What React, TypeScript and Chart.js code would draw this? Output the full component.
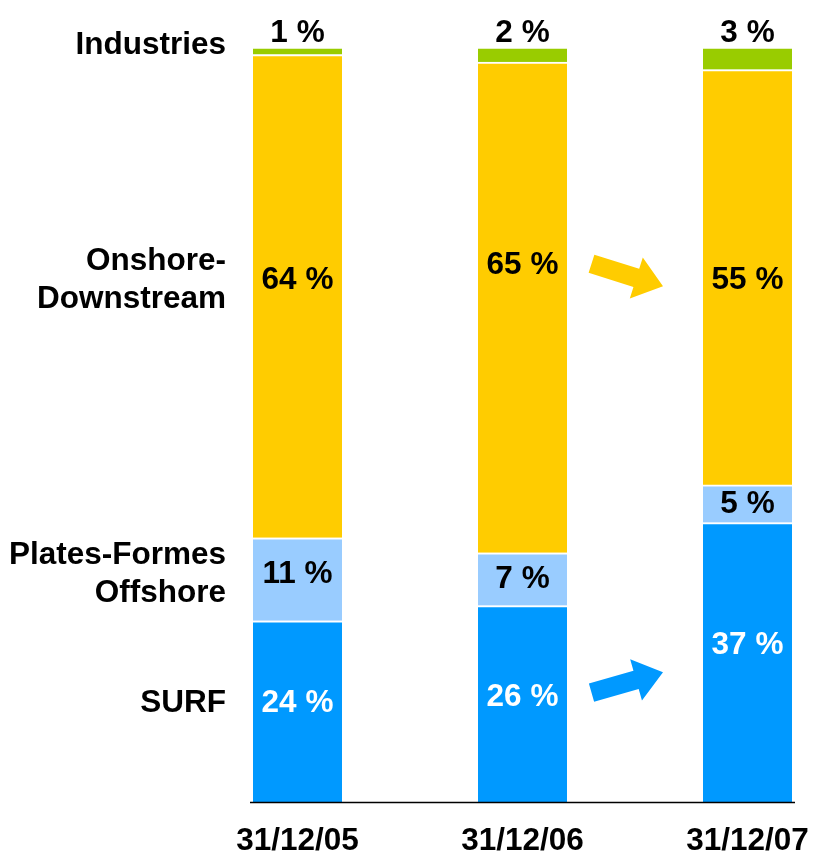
import React, { useEffect, useRef } from "react";
import { Chart, registerables } from "chart.js";

Chart.register(...registerables);

const categories = ["31/12/05", "31/12/06", "31/12/07"];
const seriesNames = ["SURF", "Plates-Formes Offshore", "Onshore-Downstream", "Industries"];
const surf = [24, 26, 37];
const platesFormes = [11, 7, 5];
const onshore = [64, 65, 55];
const industries = [1, 2, 3];
const rowLabels = [["SURF"], ["Plates-Formes", "Offshore"], ["Onshore-", "Downstream"], ["Industries"]];

const COLORS = ["#0099FF", "#99CCFF", "#FFCC00", "#99CC00"];
const LABEL_COLORS = ["#FFFFFF", "#000000", "#000000", "#000000"];
const FAMILY = "'Liberation Sans', Arial, sans-serif";
const FONT_SIZE = 31.5;
const FONT = `bold ${FONT_SIZE}px ${FAMILY}`;
const TEXT_SHIFT = 3;

// label anchor within each segment (fraction of segment height from its top)
const anchor = [
  [0.44, 0.45, 0.43],
  [0.4, 0.45, 0.43],
  [0.46, 0.407, 0.5],
];

const annotations = {
  id: "annotations",
  afterDatasetsDraw(chart: any) {
    const ctx = chart.ctx;
    const yScale = chart.scales.y;
    const area = chart.chartArea;
    ctx.save();
    ctx.font = FONT;
    ctx.textAlign = "center";
    ctx.textBaseline = "middle";
    const metas = chart.data.datasets.map((_: any, i: number) => chart.getDatasetMeta(i));
    const rowY: number[] = [];
    metas.forEach((meta: any, di: number) => {
      meta.data.forEach((el: any, j: number) => {
        const v = chart.data.datasets[di].data[j];
        const top = Math.min(el.y, el.base);
        const h = Math.abs(el.base - el.y);
        let y: number;
        if (di === 3) y = top - 17;
        else y = top + anchor[di][j] * h;
        y += TEXT_SHIFT;
        if (j === 0) rowY[di] = di === 3 ? top + h / 2 - 8 + TEXT_SHIFT : y;
        ctx.fillStyle = LABEL_COLORS[di];
        ctx.fillText(v + " %", el.x, y);
      });
    });
    // row labels on the left
    const first = metas[0].data[0];
    const lx = first.x - first.width / 2 - 27;
    ctx.textAlign = "right";
    ctx.fillStyle = "#000";
    rowLabels.forEach((lines, di) => {
      const n = lines.length;
      lines.forEach((t, k) => {
        ctx.fillText(t, lx, rowY[di] + (k - (n - 1) / 2) * 38);
      });
    });
    // axis line
    const last = metas[0].data[metas[0].data.length - 1];
    ctx.strokeStyle = "#000";
    ctx.lineWidth = 1.6;
    ctx.beginPath();
    ctx.moveTo(first.x - first.width / 2 - 3, area.bottom + 0.5);
    ctx.lineTo(last.x + last.width / 2 + 3, area.bottom + 0.5);
    ctx.stroke();
    // arrows
    const b1 = metas[0].data[1];
    const b2 = metas[0].data[2];
    const x0 = b1.x + b1.width / 2 + 24.5;
    const x1 = b2.x - b2.width / 2 - 40;
    const drawArrow = (yv0: number, yv1: number, color: string) => {
      const p0 = { x: x0, y: yScale.getPixelForValue(yv0) };
      const p1 = { x: x1, y: yScale.getPixelForValue(yv1) };
      const dx = p1.x - p0.x, dy = p1.y - p0.y;
      const len = Math.hypot(dx, dy);
      const ux = dx / len, uy = dy / len;
      const nx = -uy, ny = ux;
      const headLen = 28, headW = 21.5, shaftW = 9.5;
      const bx = p1.x - ux * headLen, by = p1.y - uy * headLen;
      ctx.fillStyle = color;
      ctx.beginPath();
      ctx.moveTo(p0.x + nx * shaftW, p0.y + ny * shaftW);
      ctx.lineTo(bx + nx * shaftW, by + ny * shaftW);
      ctx.lineTo(bx + nx * headW, by + ny * headW);
      ctx.lineTo(p1.x, p1.y);
      ctx.lineTo(bx - nx * headW, by - ny * headW);
      ctx.lineTo(bx - nx * shaftW, by - ny * shaftW);
      ctx.lineTo(p0.x - nx * shaftW, p0.y - ny * shaftW);
      ctx.closePath();
      ctx.fill();
    };
    drawArrow(71.3, 68.3, COLORS[2]);
    drawArrow(14.5, 17.2, COLORS[0]);
    ctx.restore();
  },
};

export default function App() {
  const ref = useRef<HTMLCanvasElement>(null);
  useEffect(() => {
    if (!ref.current) return;
    const values = [surf, platesFormes, onshore, industries];
    const chart = new Chart(ref.current, {
      type: "bar",
      data: {
        labels: categories,
        datasets: seriesNames.map((name, i) => ({
          label: name,
          data: values[i],
          backgroundColor: COLORS[i],
          borderColor: "#FFFFFF",
          borderWidth: { top: 2, left: 0, right: 0, bottom: 0 },
          borderSkipped: false,
          barThickness: 89,
          clip: false as any,
        })),
      },
      options: {
        animation: false,
        responsive: false,
        events: [],
        layout: { padding: { left: 297.5, right: 66.5, top: 47, bottom: 0 } },
        plugins: { legend: { display: false }, tooltip: { enabled: false } },
        scales: {
          x: {
            stacked: true,
            offset: false,
            grid: { display: false, offset: false, drawTicks: false },
            border: { display: false },
            afterFit: (scale: any) => {
              scale.height = 61;
            },
            ticks: {
              color: "#000",
              padding: 0,
              font: { family: FAMILY, size: FONT_SIZE, weight: "bold", lineHeight: 78 / FONT_SIZE },
              maxRotation: 0,
              autoSkip: false,
            },
          },
          y: {
            stacked: true,
            display: false,
            min: 0,
            max: 100,
          },
        },
      },
      plugins: [annotations],
    });
    return () => chart.destroy();
  }, []);
  return (
    <div style={{ position: "absolute", left: 0, top: 0, width: 814, height: 863, background: "#fff" }}>
      <canvas ref={ref} width={814} height={863} />
    </div>
  );
}
